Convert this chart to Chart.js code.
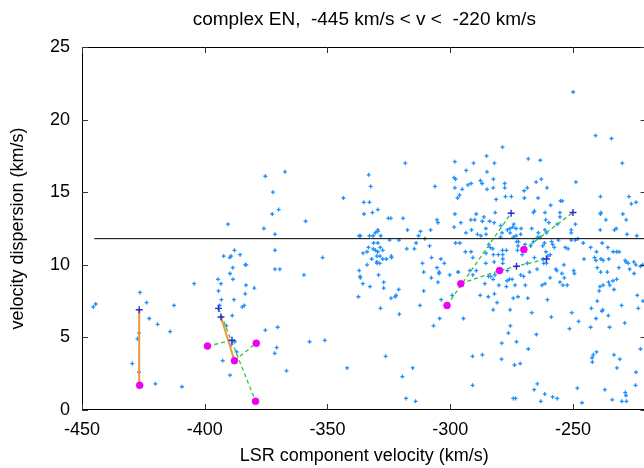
<!DOCTYPE html>
<html>
<head>
<meta charset="utf-8">
<script src="https://cdn.jsdelivr.net/npm/chart.js@4/dist/chart.umd.min.js"></script>
<style>
html, body { margin: 0; padding: 0; background: #fff; overflow: hidden; }
#wrap { width: 652px; height: 468px; }
</style>
</head>
<body>
<div id="wrap"><canvas id="chart" width="652" height="468"></canvas></div>
<script>
// axis ticks
const xTicks = [-450, -400, -350, -300, -250];
const yTicks = [0, 5, 10, 15, 20, 25];

const titleText = 'complex EN,  -445 km/s < v <  -220 km/s';

// all components: [LSR velocity, velocity dispersion]
const cloud = [
  [-375.3,16.1],
  [-367.3,16.4],[-318.3,17.0],[-298.1,17.1],[-333.2,16.2],[-298.4,16.0],[-297.8,15.9],[-372.2,15.0],[-332.4,15.4],
  [-306.2,15.4],[-298.1,15.3],[-297.0,14.6],[-343.5,14.6],[-335.2,14.3],[-332.9,14.3],[-369.9,13.8],[-372.5,13.5],
  [-335.1,13.5],[-331.7,13.6],[-329.5,13.8],[-358.9,13.0],[-325.2,13.2],[-324.2,13.2],[-319.2,13.2],[-305.4,13.1],
  [-305.0,12.9],[-298.1,13.5],[-298.4,12.6],[-329.5,12.4],[-317.4,12.4],[-312.1,12.3],[-308.0,12.4],
  [-371.4,12.1],[-337.1,12.0],[-336.6,12.0],[-332.9,12.0],[-331.4,12.0],[-330.5,12.2],[-329.5,12.3],[-328.3,12.0],
  [-312.9,12.0],[-310.3,11.8],[-371.4,11.0],[-352.0,10.5],[-371.4,9.7],[-369.4,9.7],[-359.6,9.3],[-331.2,11.5],
  [-329.5,11.5],[-333.3,11.2],[-331.4,11.1],[-330.5,11.0],[-329.5,10.9],[-328.5,11.2],[-327.5,11.0],[-335.5,10.8],
  [-333.9,10.9],[-332.0,10.4],[-329.9,10.6],[-328.6,10.6],[-327.5,10.4],[-326.0,10.4],[-323.9,10.5],[-324.0,10.6],
  [-329.9,10.2],[-328.7,10.1],[-329.8,10.1],[-333.9,10.0],[-324.7,11.7],[-320.9,11.7],[-317.7,11.1],[-314.6,11.1],
  [-313.9,11.5],[-308.4,11.3],[-297.8,11.5],[-307.6,10.5],[-311.3,10.1],[-303.8,10.4],[-302.4,10.1],[-305.4,9.8],
  [-304.5,9.5],[-304.5,9.4],[-300.2,9.3],[-296.8,9.5],[-310.8,9.5],[-307.7,9.1],[-305.0,8.8],[-337.1,9.6],
  [-336.7,9.2],[-336.6,9.1],[-335.6,8.7],[-332.7,8.5],[-329.2,9.3],[-327.1,8.8],[-327.1,8.4],[-321.0,8.3],
  [-322.1,7.9],[-322.4,7.8],[-324.1,7.7],[-337.4,7.8],[-310.8,8.2],[-303.7,7.6],[-299.2,7.9],[-312.3,7.2],
  [-328.4,7.0],[-320.7,6.6],[-304.3,6.3],[-306.8,5.8],[-370.3,5.7],[-370.7,4.3],[-371.5,3.9],[-357.3,4.7],
  [-351.1,4.8],[-326.3,3.7],[-366.7,2.7],[-342.0,2.9],[-315.3,2.9],[-319.5,2.3],[-318.0,0.8],[-314.1,0.6],
  [-249.9,21.9],[-240.8,18.9],[-234.3,18.7],[-229.9,17.0],[-278.7,18.1],[-285.2,17.5],[-268.2,17.3],[-263.3,17.2],
  [-290.5,17.0],[-282.0,17.0],[-293.5,16.5],[-285.0,16.4],[-282.4,15.9],[-287.7,15.8],[-287.0,15.6],[-292.8,15.5],
  [-291.5,15.6],[-295.1,15.2],[-285.0,15.2],[-277.8,15.6],[-277.8,15.3],[-282.5,15.3],[-265.0,15.7],[-262.9,15.9],
  [-248.8,15.7],[-269.9,15.1],[-268.6,15.3],[-260.6,15.3],[-296.2,14.8],[-281.3,14.5],[-277.5,14.7],[-275.1,14.7],
  [-269.8,14.6],[-264.2,14.6],[-259.1,14.1],[-255.1,14.4],[-254.3,14.4],[-238.8,14.7],[-227.2,14.7],[-226.2,14.2],
  [-224.3,14.3],[-289.4,13.5],[-286.3,13.3],[-281.7,13.6],[-291.6,13.1],[-290.0,13.1],[-286.9,13.0],[-283.9,13.0],
  [-282.1,12.9],[-295.7,12.9],[-266.1,13.6],[-265.7,13.7],[-261.4,13.6],[-255.3,13.6],[-255.3,13.3],[-261.1,13.1],
  [-259.8,12.9],[-256.4,12.8],[-238.6,13.6],[-238.8,13.5],[-236.6,13.1],[-229.7,13.5],[-228.3,13.1],[-249.0,12.8],
  [-238.9,12.4],[-232.4,12.5],[-233.1,12.4],[-250.7,12.4],[-285.5,12.5],[-279.4,12.7],[-274.1,12.8],[-274.5,12.6],
  [-275.6,12.5],[-273.2,12.5],[-271.1,12.5],[-266.8,12.5],[-261.4,12.4],[-291.3,12.4],[-276.7,12.4],
  [-293.6,12.2],[-288.9,12.1],[-287.5,12.0],[-285.4,12.1],[-278.9,12.2],[-275.6,12.2],[-274.3,11.9],[-273.2,12.0],
  [-271.3,12.1],[-264.1,12.2],[-260.8,12.2],[-250.7,12.2],[-228.0,12.1],[-224.0,12.0],[-293.8,10.9],[-291.5,10.9],
  [-290.8,10.5],[-296.1,11.5],[-284.3,11.4],[-279.5,11.9],[-283.7,11.2],[-282.7,11.1],[-285.4,10.8],[-282.4,10.7],
  [-280.4,10.7],[-278.7,11.0],[-277.1,11.0],[-278.6,10.7],[-278.6,10.4],[-278.6,10.1],[-272.9,11.6],[-272.2,11.6],
  [-272.4,11.3],[-272.6,11.0],[-269.5,11.4],[-267.2,11.3],[-266.1,11.6],[-262.3,11.3],[-261.6,11.5],[-264.4,11.9],
  [-263.4,11.9],[-258.7,11.6],[-258.3,11.4],[-257.6,11.2],[-261.0,10.9],[-259.2,10.7],[-260.2,10.6],[-262.3,10.4],
  [-261.9,10.1],[-260.8,10.1],[-268.6,10.1],[-267.7,9.5],[-270.7,10.7],[-265.7,10.5],[-259.3,9.1],[-261.4,8.7],
  [-262.6,8.6],[-255.9,11.7],[-253.1,11.2],[-252.0,11.1],[-250.7,11.7],[-249.0,11.7],[-248.0,11.8],[-245.8,11.5],
  [-253.7,10.0],[-257.0,9.7],[-256.6,9.6],[-254.5,9.4],[-253.5,9.1],[-255.3,8.8],[-254.1,8.6],[-249.4,9.4],
  [-249.7,9.6],[-242.8,11.2],[-240.4,10.9],[-238.1,11.5],[-235.8,11.2],[-233.6,10.9],[-232.2,10.9],[-231.2,10.9],
  [-241.2,10.5],[-238.6,10.4],[-237.7,10.3],[-240.6,10.3],[-245.5,10.4],[-240.1,9.8],[-238.7,9.5],[-236.0,9.5],
  [-235.4,10.4],[-231.3,9.8],[-228.7,10.3],[-228.4,10.2],[-227.5,10.1],[-225.2,10.2],[-224.4,10.0],[-226.9,9.7],
  [-225.1,9.4],[-222.5,9.9],[-221.6,10.0],[-232.2,9.0],[-233.7,8.9],[-235.5,8.8],[-235.0,8.6],[-237.7,8.6],
  [-239.0,8.5],[-239.3,8.2],[-233.3,8.3],[-223.8,7.9],[-223.4,7.0],[-230.2,7.2],[-240.1,7.5],[-242.5,7.0],
  [-237.9,6.9],[-238.2,6.8],[-240.6,6.3],[-235.6,6.5],[-228.9,6.0],[-235.1,5.7],[-242.8,5.7],[-250.5,6.7],
  [-247.7,6.1],[-251.4,5.6],[-258.8,6.4],[-266.8,6.7],[-260.4,7.6],[-268.4,7.7],[-272.4,7.8],[-274.3,7.7],
  [-275.6,6.9],[-280.9,7.4],[-282.5,6.9],[-282.0,8.0],[-284.5,7.8],[-287.8,7.9],[-294.6,6.3],[-285.9,8.7],
  [-284.4,9.2],[-285.5,10.1],[-296.7,9.5],[-292.0,9.6],[-289.4,9.6],[-290.8,9.3],[-283.5,9.2],[-281.8,9.3],
  [-282.5,9.0],[-280.2,8.6],[-277.1,8.5],[-276.8,8.9],[-275.9,9.0],[-274.8,9.0],[-273.6,8.6],[-269.4,8.6],
  [-271.3,9.3],[-270.1,9.2],[-276.7,9.6],[-282.1,10.2],[-264.6,9.7],[-252.3,8.6],[-275.5,5.8],[-276.3,5.3],
  [-273.0,4.7],[-279.0,4.6],[-264.9,5.2],[-268.2,4.2],[-290.9,3.7],[-286.9,3.8],[-279.1,3.5],[-273.8,3.1],
  [-271.5,3.2],[-290.9,1.7],[-274.3,0.8],[-273.4,0.8],[-264.5,1.8],[-265.8,1.4],[-261.5,1.1],[-263.1,0.6],
  [-258.3,0.9],[-256.4,0.8],[-248.2,1.5],[-246.3,0.5],[-242.2,3.6],[-241.7,3.8],[-240.4,4.0],[-242.1,3.3],
  [-233.3,3.8],[-230.9,3.5],[-232.1,2.9],[-224.3,2.6],[-224.5,1.7],[-237.0,1.4],[-228.7,1.2],[-228.4,1.0],
  [-234.0,0.7],[-230.1,0.6],[-228.2,0.6],[-222.5,4.2],[-221.5,7.5],
  [-445.4,7.1],[-444.4,7.3],[-426.4,8.1],[-423.7,7.4],[-422.6,6.3],[-419.2,5.9],[-412.5,7.2],[-414.1,5.4],
  [-426.8,5.3],[-427.4,4.9],[-429.5,3.2],[-426.8,2.6],[-420.1,1.8],[-409.3,1.6],[-404.3,8.7],[-394.6,9.0],
  [-393.4,8.7],[-394.4,8.2],[-393.2,7.6],[-393.9,7.2],[-390.5,12.8],[-392.3,10.6],[-389.8,10.5],[-389.3,10.6],
  [-387.9,11.0],[-385.6,10.7],[-388.6,9.8],[-389.7,9.4],[-388.5,9.0],[-383.5,10.0],[-383.1,10.0],[-383.2,8.6],
  [-383.5,8.0],[-379.8,8.4],[-388.1,7.6],[-384.7,7.1],[-383.9,7.2],[-388.8,6.5],[-391.2,5.8],[-389.2,4.5],
  [-387.8,4.7],[-387.0,4.0],[-392.7,3.4],[-389.7,2.4],[-375.9,12.5],[-375.3,5.5]
];

// model positions (magenta circles)
const modelVel = [-426.5, -398.9, -387.9, -379.0, -379.3, -301.3, -295.7, -279.9, -270.0];
const modelDisp = [1.7, 4.4, 3.4, 4.6, 0.6, 7.2, 8.7, 9.6, 11.05];

// observed positions (dark crosses)
const obsVel = [-426.7, -394.4, -393.4, -388.9, -275.2, -250.0, -273.0, -260.8];
const obsDisp = [6.9, 7.0, 6.4, 4.8, 13.55, 13.6, 9.9, 10.4];

// connections
const solidLinks = [
  [[-426.5, 1.7], [-426.7, 6.9]],
  [[-393.4, 6.4], [-387.9, 3.4]]
];
const dashedLinks = [
  [[-394.4, 7.0], [-379.3, 0.6]],
  [[-398.9, 4.4], [-388.9, 4.8]],
  [[-387.9, 3.4], [-379.0, 4.6]],
  [[-301.3, 7.2], [-275.2, 13.55]],
  [[-295.7, 8.7], [-279.9, 9.6], [-273.0, 9.9], [-260.8, 10.4]],
  [[-270.0, 11.05], [-250.0, 13.6]]
];

// mean dispersion line
const refLevel = 11.8;
const refRange = [-445, -220];

const FONT = 'Liberation Sans, Arial, Helvetica, sans-serif';
Chart.defaults.font.family = FONT;
Chart.defaults.color = '#000';

const toPts = arr => arr.map(p => ({ x: p[0], y: p[1] }));

const datasets = [];
datasets.push({
  label: 'components',
  data: toPts(cloud),
  pointStyle: 'cross',
  pointRadius: 2,
  borderWidth: 1.3,
  borderColor: 'rgb(30,144,255)',
  showLine: false,
  order: 5
});
datasets.push({
  label: 'mean',
  data: refRange.map(v => ({ x: v, y: refLevel })),
  showLine: true,
  borderColor: '#000',
  borderWidth: 1,
  pointRadius: 0,
  order: 4
});
dashedLinks.forEach(function(link) {
  datasets.push({
    data: toPts(link),
    showLine: true,
    borderColor: 'rgb(50,195,50)',
    borderWidth: 1.3,
    borderDash: [4, 3],
    pointRadius: 0,
    order: 3
  });
});
solidLinks.forEach(function(link) {
  datasets.push({
    data: toPts(link),
    showLine: true,
    borderColor: 'rgb(240,150,60)',
    borderWidth: 2,
    pointRadius: 0,
    order: 2
  });
});
datasets.push({
  label: 'observed',
  data: obsVel.map((v, i) => ({ x: v, y: obsDisp[i] })),
  pointStyle: 'cross',
  pointRadius: 3.5,
  borderWidth: 1.4,
  borderColor: 'rgb(40,40,210)',
  showLine: false,
  order: 1
});
datasets.push({
  label: 'model',
  data: modelVel.map((v, i) => ({ x: v, y: modelDisp[i] })),
  pointStyle: 'circle',
  pointRadius: 3.5,
  backgroundColor: 'rgb(240,0,240)',
  borderColor: 'rgba(240,0,240,0.5)',
  borderWidth: 1,
  showLine: false,
  order: 0
});

// box round the plot with inward tick marks
const framePlugin = {
  id: 'frame',
  afterDatasetsDraw(chart) {
    const { ctx, chartArea: a, scales: { x, y } } = chart;
    ctx.save();
    ctx.strokeStyle = '#000';
    ctx.lineWidth = 1;
    ctx.strokeRect(a.left + 0.5, a.top + 0.5, a.right - a.left - 1, a.bottom - a.top - 1);
    ctx.strokeStyle = '#333';
    ctx.beginPath();
    xTicks.forEach(function(v) {
      const px = Math.round(x.getPixelForValue(v)) + 0.5;
      ctx.moveTo(px, a.bottom); ctx.lineTo(px, a.bottom - 6);
      ctx.moveTo(px, a.top); ctx.lineTo(px, a.top + 6);
    });
    yTicks.forEach(function(v) {
      const py = Math.round(y.getPixelForValue(v)) + 0.5;
      ctx.moveTo(a.left, py); ctx.lineTo(a.left + 6, py);
      ctx.moveTo(a.right, py); ctx.lineTo(a.right - 6, py);
    });
    ctx.stroke();
    ctx.restore();
  }
};

const ctx = document.getElementById('chart').getContext('2d');
const chart = new Chart(ctx, {
  type: 'scatter',
  data: { datasets: datasets },
  plugins: [framePlugin],
  options: {
    responsive: false,
    animation: false,
    devicePixelRatio: 1,
    layout: { padding: { top: 0, right: 5, bottom: 0, left: 0 } },
    plugins: {
      legend: { display: false },
      tooltip: { enabled: false },
      title: {
        display: true,
        text: titleText,
        fullSize: false,
        color: '#000',
        font: { family: FONT, size: 19, weight: 'normal' },
        padding: { top: 8, bottom: 16.2 }
      }
    },
    scales: {
      x: {
        type: 'linear',
        min: -450,
        max: -220,
        afterFit: function(s) { s.height = 58; },
        afterBuildTicks: function(s) { s.ticks = xTicks.map(v => ({ value: v })); },
        ticks: { autoSkip: false, maxRotation: 0, padding: 9, color: '#000', font: { size: 18 } },
        grid: { display: false, drawTicks: false },
        border: { display: false },
        title: {
          display: true,
          text: 'LSR component velocity (km/s)',
          color: '#000',
          font: { size: 18 },
          padding: { top: 0, bottom: 1 }
        }
      },
      y: {
        type: 'linear',
        min: 0,
        max: 25,
        afterFit: function(s) { s.width = 82; },
        afterBuildTicks: function(s) { s.ticks = yTicks.map(v => ({ value: v })); },
        ticks: { autoSkip: false, padding: 12, color: '#000', font: { size: 18 } },
        grid: { display: false, drawTicks: false },
        border: { display: false },
        title: {
          display: true,
          text: 'velocity dispersion (km/s)',
          color: '#000',
          font: { size: 18 },
          padding: { top: 7, bottom: 0 }
        }
      }
    }
  }
});
</script>
</body>
</html>
